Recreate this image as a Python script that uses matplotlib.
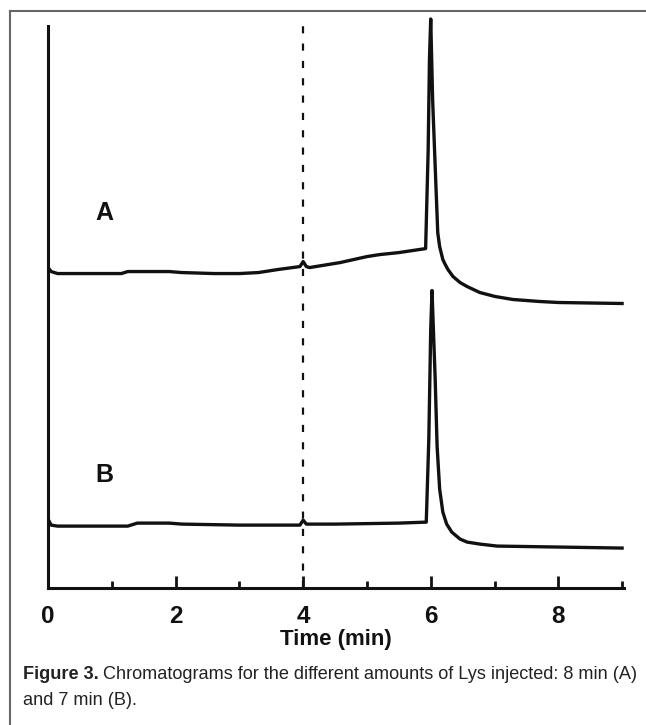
import numpy as np
import matplotlib
matplotlib.use("Agg")
import matplotlib.pyplot as plt
from matplotlib.lines import Line2D

# trace A (8 min), time in min, detector response in arbitrary units
time_a = [0.00, 0.05, 0.15, 1.15, 1.25, 1.90, 2.10, 2.60, 3.00, 3.30, 3.60, 3.95, 4.00,
          4.05, 4.10, 4.58, 5.00, 5.20, 5.50, 5.92, 5.96, 5.98, 6.00, 6.03, 6.07, 6.11,
          6.14, 6.19, 6.22, 6.27, 6.35, 6.46, 6.57, 6.77, 7.01, 7.29, 7.71, 8.00, 9.00]
signal_a = [32.1, 31.7, 31.5, 31.5, 31.7, 31.7, 31.6, 31.5, 31.5, 31.6, 31.9, 32.2, 32.7,
            32.2, 32.1, 32.6, 33.2, 33.4, 33.6, 34.0, 43.9, 52.9, 57.0, 48.9, 42.2, 35.6,
            34.2, 32.9, 32.5, 31.9, 31.2, 30.6, 30.2, 29.6, 29.2, 28.9, 28.7, 28.6, 28.5]

# trace B (7 min)
time_b = [0.00, 0.05, 0.15, 1.25, 1.40, 1.90, 2.10, 3.00, 3.95, 4.00, 4.05, 4.50, 5.50,
          5.93, 5.97, 6.00, 6.02, 6.07, 6.10, 6.14, 6.19, 6.25, 6.33, 6.46, 6.57, 6.77,
          7.04, 8.03, 9.00]
signal_b = [6.9, 6.3, 6.2, 6.2, 6.5, 6.5, 6.4, 6.3, 6.3, 6.8, 6.4, 6.4, 6.5,
            6.6, 14.9, 25.9, 29.8, 20.9, 14.2, 9.9, 7.6, 6.4, 5.6, 4.9, 4.6, 4.4,
            4.2, 4.1, 4.0]

major_ticks = [0, 2, 4, 6, 8]
minor_ticks = [1, 3, 5, 7, 9]
marker_time = 4.0

W, H = 646, 725
fig = plt.figure(figsize=(W / 100, H / 100), dpi=100)

ax_left, ax_right, ax_bottom, ax_top = 48, 624, 588, 16
ax = fig.add_axes([ax_left / W, 1 - ax_bottom / H,
                   (ax_right - ax_left) / W, (ax_bottom - ax_top) / H])

ax.plot(time_a, signal_a, color="#111111", lw=2.4, solid_joinstyle="round")
ax.plot(time_b, signal_b, color="#111111", lw=2.4, solid_joinstyle="round")
ax.axvline(marker_time, ymin=0, ymax=0.99, color="#111111", lw=1.6,
           dashes=(3.2, 4.6))

ax.set_xlim(0, 9.03)
ax.set_ylim(0, 57.3)

for side in ["top", "right"]:
    ax.spines[side].set_visible(False)
ax.spines["left"].set_linewidth(2.2)
ax.spines["bottom"].set_linewidth(2.2)
ax.spines["left"].set_bounds(0, 56.3)
ax.spines["left"].set_color("#111111")
ax.spines["bottom"].set_color("#111111")

ax.set_yticks([])
ax.set_xticks(major_ticks)
ax.set_xticks(minor_ticks, minor=True)
ax.tick_params(axis="x", which="major", direction="in", length=9, width=2,
               color="#111111", pad=12)
ax.tick_params(axis="x", which="minor", direction="in", length=5, width=2,
               color="#111111")
ax.set_xticklabels([str(t) for t in major_ticks], fontsize=17.5,
                   fontweight="bold", family="Liberation Sans", fontstretch="normal",
                   color="#111111")
ax.set_xlabel("Time (min)", fontsize=16, fontweight="bold", family="Liberation Sans",
              fontstretch="normal", color="#111111", labelpad=1)

ax.text(0.89, 37.6, "A", fontsize=18, fontweight="bold", family="Liberation Sans",
        fontstretch="normal", ha="center", va="center", color="#111111")
ax.text(0.89, 11.3, "B", fontsize=18, fontweight="bold", family="Liberation Sans",
        fontstretch="normal", ha="center", va="center", color="#111111")

# outer frame
frame_kw = dict(color="#666666", lw=1.5, transform=fig.transFigure)
fig.add_artist(Line2D([10 / W, 10 / W], [0, 1 - 11 / H], **frame_kw))
fig.add_artist(Line2D([10 / W, 1], [1 - 11 / H, 1 - 11 / H], **frame_kw))

# caption, two lines, condensed face sized to span the same width as the reference
cap_kw = dict(family="Liberation Sans", fontstretch="condensed", color="#222222",
              va="baseline")
x0, x_end = 23, 635
y1 = 1 - 679 / H
y2 = 1 - 705 / H
renderer = fig.canvas.get_renderer()


def draw_caption(size):
    t1 = fig.text(x0 / W, y1, "Figure 3.", fontsize=size, fontweight="bold", **cap_kw)
    bb = t1.get_window_extent(renderer)
    t2 = fig.text((bb.x1 + 0.3 * size) / W, y1,
                  "Chromatograms for the different amounts of Lys injected: 8 min (A)",
                  fontsize=size, **cap_kw)
    t3 = fig.text(x0 / W, y2, "and 7 min (B).", fontsize=size, **cap_kw)
    return [t1, t2, t3]


size = 13.0
texts = draw_caption(size)
right = texts[1].get_window_extent(renderer).x1
for t in texts:
    t.remove()
size = size * (x_end - x0) / (right - x0)
draw_caption(size)

fig.savefig("out.png", dpi=100)
